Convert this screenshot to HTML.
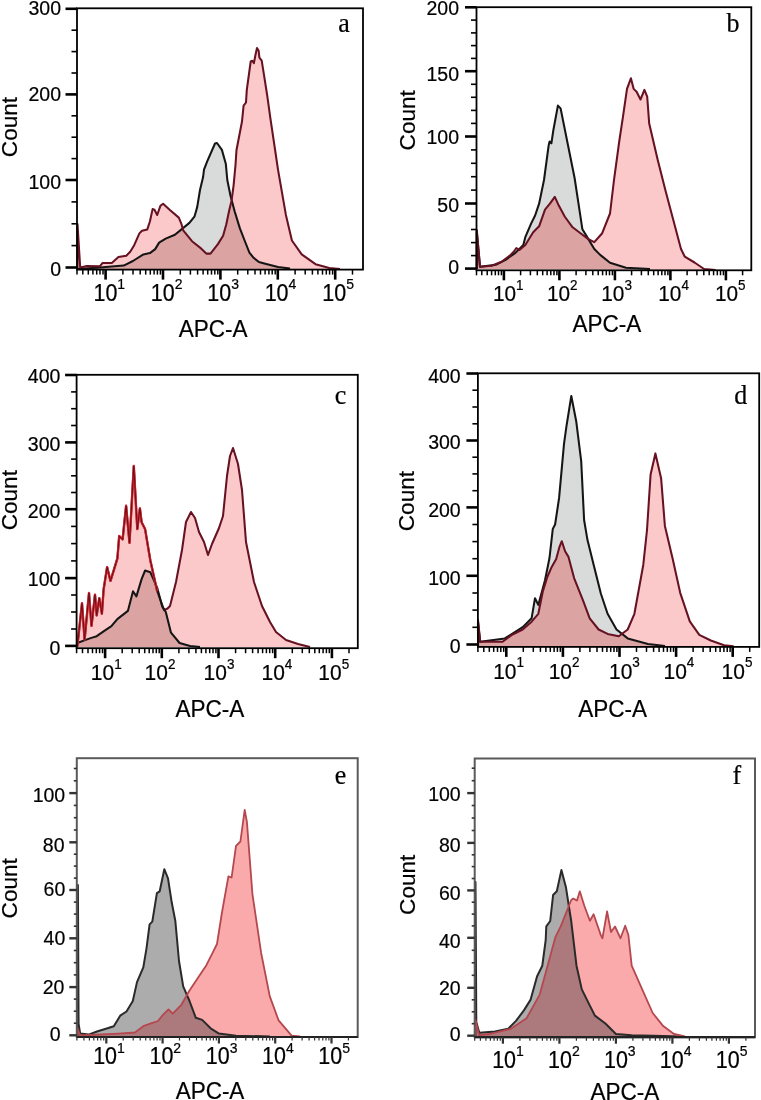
<!DOCTYPE html>
<html><head><meta charset="utf-8"><style>
html,body{margin:0;padding:0;background:#fff;width:761px;height:1100px;overflow:hidden}
svg{display:block}
text{fill:#000;stroke:#000;stroke-width:0.2px}
svg{will-change:transform}
</style></head><body>
<svg width="761" height="1100" viewBox="0 0 761 1100">
<rect width="761" height="1100" fill="#fff"/>
<clipPath id="clipg0"><path d="M77.5,269 L100,267.5 L123.7,265.6 L132.9,261 L143.4,254.4 L149.9,253.1 L155.2,249.1 L159.1,242.6 L165.7,238.6 L174.9,234.7 L181.5,229.4 L189.4,222.9 L194.6,216.3 L197.2,207.1 L200,190 L203.1,177 L204,169.6 L207.1,161.7 L215,143.5 L217,143 L221.9,149.9 L225.8,163.7 L227.3,180 L230.5,195.8 L234.7,211.5 L239.9,228.4 L245.2,242 L249.4,252.6 L253.6,257.8 L258.9,262 L264.3,263.5 L278,267.1 L290,268.5 Z"/></clipPath>
<path d="M77.5,269 L100,267.5 L123.7,265.6 L132.9,261 L143.4,254.4 L149.9,253.1 L155.2,249.1 L159.1,242.6 L165.7,238.6 L174.9,234.7 L181.5,229.4 L189.4,222.9 L194.6,216.3 L197.2,207.1 L200,190 L203.1,177 L204,169.6 L207.1,161.7 L215,143.5 L217,143 L221.9,149.9 L225.8,163.7 L227.3,180 L230.5,195.8 L234.7,211.5 L239.9,228.4 L245.2,242 L249.4,252.6 L253.6,257.8 L258.9,262 L264.3,263.5 L278,267.1 L290,268.5 Z" fill="#d9dbdb"/>
<path d="M77.5,269 L77.5,224 L80.2,267.5 L87,266 L100,266.2 L102.6,262.9 L111.8,262.9 L118.4,257 L126.3,255.7 L130.2,251.8 L134.2,245.2 L139.4,233.4 L142,230.7 L147.3,229.4 L149.9,221.5 L152.6,209.1 L154.5,209.7 L157.2,215 L160.4,205.8 L163.1,203.8 L169.6,209.7 L178.8,217.6 L181.5,224.2 L183.4,230.7 L192,241.2 L201,248.4 L206.3,253.6 L210.5,253.6 L217.9,244.1 L223.1,235.7 L226.3,224.2 L229.4,209.4 L231.5,201 L233.6,185.3 L235.5,165 L236.5,150 L242,121.5 L243.6,105.7 L246,102.5 L246.8,89.9 L250.7,61.5 L252.3,60.7 L253.9,63.1 L255.4,55.2 L257,48.1 L258.6,50.5 L259.4,57.6 L261.7,60.7 L264.1,75.7 L267.3,96.2 L270.4,118.3 L275.1,150 L278,169.6 L285.9,214.9 L291.9,240.5 L301.7,254.3 L315.5,264.2 L329.3,268.1 L340,269 Z" fill="#fcc9ca"/>
<path d="M77.5,269 L77.5,224 L80.2,267.5 L87,266 L100,266.2 L102.6,262.9 L111.8,262.9 L118.4,257 L126.3,255.7 L130.2,251.8 L134.2,245.2 L139.4,233.4 L142,230.7 L147.3,229.4 L149.9,221.5 L152.6,209.1 L154.5,209.7 L157.2,215 L160.4,205.8 L163.1,203.8 L169.6,209.7 L178.8,217.6 L181.5,224.2 L183.4,230.7 L192,241.2 L201,248.4 L206.3,253.6 L210.5,253.6 L217.9,244.1 L223.1,235.7 L226.3,224.2 L229.4,209.4 L231.5,201 L233.6,185.3 L235.5,165 L236.5,150 L242,121.5 L243.6,105.7 L246,102.5 L246.8,89.9 L250.7,61.5 L252.3,60.7 L253.9,63.1 L255.4,55.2 L257,48.1 L258.6,50.5 L259.4,57.6 L261.7,60.7 L264.1,75.7 L267.3,96.2 L270.4,118.3 L275.1,150 L278,169.6 L285.9,214.9 L291.9,240.5 L301.7,254.3 L315.5,264.2 L329.3,268.1 L340,269 Z" fill="#dca3a3" clip-path="url(#clipg0)"/>
<path d="M77.5,269 L100,267.5 L123.7,265.6 L132.9,261 L143.4,254.4 L149.9,253.1 L155.2,249.1 L159.1,242.6 L165.7,238.6 L174.9,234.7 L181.5,229.4 L189.4,222.9 L194.6,216.3 L197.2,207.1 L200,190 L203.1,177 L204,169.6 L207.1,161.7 L215,143.5 L217,143 L221.9,149.9 L225.8,163.7 L227.3,180 L230.5,195.8 L234.7,211.5 L239.9,228.4 L245.2,242 L249.4,252.6 L253.6,257.8 L258.9,262 L264.3,263.5 L278,267.1 L290,268.5" fill="none" stroke="#151515" stroke-width="2.05" stroke-linejoin="round"/>
<path d="M77.5,269 L77.5,224 L80.2,267.5 L87,266 L100,266.2 L102.6,262.9 L111.8,262.9 L118.4,257 L126.3,255.7 L130.2,251.8 L134.2,245.2 L139.4,233.4 L142,230.7 L147.3,229.4 L149.9,221.5 L152.6,209.1 L154.5,209.7 L157.2,215 L160.4,205.8 L163.1,203.8 L169.6,209.7 L178.8,217.6 L181.5,224.2 L183.4,230.7 L192,241.2 L201,248.4 L206.3,253.6 L210.5,253.6 L217.9,244.1 L223.1,235.7 L226.3,224.2 L229.4,209.4 L231.5,201 L233.6,185.3 L235.5,165 L236.5,150 L242,121.5 L243.6,105.7 L246,102.5 L246.8,89.9 L250.7,61.5 L252.3,60.7 L253.9,63.1 L255.4,55.2 L257,48.1 L258.6,50.5 L259.4,57.6 L261.7,60.7 L264.1,75.7 L267.3,96.2 L270.4,118.3 L275.1,150 L278,169.6 L285.9,214.9 L291.9,240.5 L301.7,254.3 L315.5,264.2 L329.3,268.1 L340,269" fill="none" stroke="#661222" stroke-width="2.05" stroke-linejoin="round"/>
<rect x="77" y="8.3" width="286" height="261.3" fill="none" stroke="#000" stroke-width="1.8"/>
<line x1="65.5" y1="267.5" x2="77" y2="267.5" stroke="#000" stroke-width="2.6"/>
<text x="61" y="276.2" font-size="19.5" text-anchor="end" font-family='"Liberation Sans", sans-serif'>0</text>
<line x1="71.5" y1="245.6" x2="77" y2="245.6" stroke="#000" stroke-width="1.6"/>
<line x1="71.5" y1="223.8" x2="77" y2="223.8" stroke="#000" stroke-width="1.6"/>
<line x1="71.5" y1="201.9" x2="77" y2="201.9" stroke="#000" stroke-width="1.6"/>
<line x1="65.5" y1="180" x2="77" y2="180" stroke="#000" stroke-width="2.6"/>
<text x="61" y="189" font-size="19.5" text-anchor="end" font-family='"Liberation Sans", sans-serif'>100</text>
<line x1="71.5" y1="158.6" x2="77" y2="158.6" stroke="#000" stroke-width="1.6"/>
<line x1="71.5" y1="137.2" x2="77" y2="137.2" stroke="#000" stroke-width="1.6"/>
<line x1="71.5" y1="115.8" x2="77" y2="115.8" stroke="#000" stroke-width="1.6"/>
<line x1="65.5" y1="94.4" x2="77" y2="94.4" stroke="#000" stroke-width="2.6"/>
<text x="61" y="101.1" font-size="19.5" text-anchor="end" font-family='"Liberation Sans", sans-serif'>200</text>
<line x1="71.5" y1="73" x2="77" y2="73" stroke="#000" stroke-width="1.6"/>
<line x1="71.5" y1="51.6" x2="77" y2="51.6" stroke="#000" stroke-width="1.6"/>
<line x1="71.5" y1="30.2" x2="77" y2="30.2" stroke="#000" stroke-width="1.6"/>
<line x1="65.5" y1="8.8" x2="77" y2="8.8" stroke="#000" stroke-width="2.6"/>
<text x="61" y="15.3" font-size="19.5" text-anchor="end" font-family='"Liberation Sans", sans-serif'>300</text>
<line x1="77" y1="269.6" x2="77" y2="274.6" stroke="#000" stroke-width="1.5"/>
<line x1="82.8" y1="269.6" x2="82.8" y2="274.6" stroke="#000" stroke-width="1.5"/>
<line x1="88.3" y1="269.6" x2="88.3" y2="274.6" stroke="#000" stroke-width="1.5"/>
<line x1="92.9" y1="269.6" x2="92.9" y2="274.6" stroke="#000" stroke-width="1.5"/>
<line x1="96.7" y1="269.6" x2="96.7" y2="274.6" stroke="#000" stroke-width="1.5"/>
<line x1="100" y1="269.6" x2="100" y2="274.6" stroke="#000" stroke-width="1.5"/>
<line x1="103" y1="269.6" x2="103" y2="274.6" stroke="#000" stroke-width="1.5"/>
<line x1="105.6" y1="269.6" x2="105.6" y2="279.6" stroke="#000" stroke-width="2.6"/>
<line x1="122.9" y1="269.6" x2="122.9" y2="274.6" stroke="#000" stroke-width="1.5"/>
<line x1="133" y1="269.6" x2="133" y2="274.6" stroke="#000" stroke-width="1.5"/>
<line x1="140.2" y1="269.6" x2="140.2" y2="274.6" stroke="#000" stroke-width="1.5"/>
<line x1="145.7" y1="269.6" x2="145.7" y2="274.6" stroke="#000" stroke-width="1.5"/>
<line x1="150.3" y1="269.6" x2="150.3" y2="274.6" stroke="#000" stroke-width="1.5"/>
<line x1="154.1" y1="269.6" x2="154.1" y2="274.6" stroke="#000" stroke-width="1.5"/>
<line x1="157.4" y1="269.6" x2="157.4" y2="274.6" stroke="#000" stroke-width="1.5"/>
<line x1="160.4" y1="269.6" x2="160.4" y2="274.6" stroke="#000" stroke-width="1.5"/>
<line x1="163" y1="269.6" x2="163" y2="279.6" stroke="#000" stroke-width="2.6"/>
<line x1="180.3" y1="269.6" x2="180.3" y2="274.6" stroke="#000" stroke-width="1.5"/>
<line x1="190.4" y1="269.6" x2="190.4" y2="274.6" stroke="#000" stroke-width="1.5"/>
<line x1="197.6" y1="269.6" x2="197.6" y2="274.6" stroke="#000" stroke-width="1.5"/>
<line x1="203.1" y1="269.6" x2="203.1" y2="274.6" stroke="#000" stroke-width="1.5"/>
<line x1="207.7" y1="269.6" x2="207.7" y2="274.6" stroke="#000" stroke-width="1.5"/>
<line x1="211.5" y1="269.6" x2="211.5" y2="274.6" stroke="#000" stroke-width="1.5"/>
<line x1="214.8" y1="269.6" x2="214.8" y2="274.6" stroke="#000" stroke-width="1.5"/>
<line x1="217.8" y1="269.6" x2="217.8" y2="274.6" stroke="#000" stroke-width="1.5"/>
<line x1="220.4" y1="269.6" x2="220.4" y2="279.6" stroke="#000" stroke-width="2.6"/>
<line x1="237.7" y1="269.6" x2="237.7" y2="274.6" stroke="#000" stroke-width="1.5"/>
<line x1="247.8" y1="269.6" x2="247.8" y2="274.6" stroke="#000" stroke-width="1.5"/>
<line x1="255" y1="269.6" x2="255" y2="274.6" stroke="#000" stroke-width="1.5"/>
<line x1="260.5" y1="269.6" x2="260.5" y2="274.6" stroke="#000" stroke-width="1.5"/>
<line x1="265.1" y1="269.6" x2="265.1" y2="274.6" stroke="#000" stroke-width="1.5"/>
<line x1="268.9" y1="269.6" x2="268.9" y2="274.6" stroke="#000" stroke-width="1.5"/>
<line x1="272.2" y1="269.6" x2="272.2" y2="274.6" stroke="#000" stroke-width="1.5"/>
<line x1="275.2" y1="269.6" x2="275.2" y2="274.6" stroke="#000" stroke-width="1.5"/>
<line x1="277.8" y1="269.6" x2="277.8" y2="279.6" stroke="#000" stroke-width="2.6"/>
<line x1="295.1" y1="269.6" x2="295.1" y2="274.6" stroke="#000" stroke-width="1.5"/>
<line x1="305.2" y1="269.6" x2="305.2" y2="274.6" stroke="#000" stroke-width="1.5"/>
<line x1="312.4" y1="269.6" x2="312.4" y2="274.6" stroke="#000" stroke-width="1.5"/>
<line x1="317.9" y1="269.6" x2="317.9" y2="274.6" stroke="#000" stroke-width="1.5"/>
<line x1="322.5" y1="269.6" x2="322.5" y2="274.6" stroke="#000" stroke-width="1.5"/>
<line x1="326.3" y1="269.6" x2="326.3" y2="274.6" stroke="#000" stroke-width="1.5"/>
<line x1="329.6" y1="269.6" x2="329.6" y2="274.6" stroke="#000" stroke-width="1.5"/>
<line x1="332.6" y1="269.6" x2="332.6" y2="274.6" stroke="#000" stroke-width="1.5"/>
<line x1="335.2" y1="269.6" x2="335.2" y2="279.6" stroke="#000" stroke-width="2.6"/>
<line x1="352.5" y1="269.6" x2="352.5" y2="274.6" stroke="#000" stroke-width="1.5"/>
<text transform="translate(109.3,300.9) scale(1,1.07)" x="0" y="0" font-size="21.5" text-anchor="middle" font-family='"Liberation Sans", sans-serif'>10<tspan dy="-11" font-size="14">1</tspan></text>
<text transform="translate(166.7,300.9) scale(1,1.07)" x="0" y="0" font-size="21.5" text-anchor="middle" font-family='"Liberation Sans", sans-serif'>10<tspan dy="-11" font-size="14">2</tspan></text>
<text transform="translate(223.1,300.9) scale(1,1.07)" x="0" y="0" font-size="21.5" text-anchor="middle" font-family='"Liberation Sans", sans-serif'>10<tspan dy="-11" font-size="14">3</tspan></text>
<text transform="translate(280.5,300.9) scale(1,1.07)" x="0" y="0" font-size="21.5" text-anchor="middle" font-family='"Liberation Sans", sans-serif'>10<tspan dy="-11" font-size="14">4</tspan></text>
<text transform="translate(338.1,300.9) scale(1,1.07)" x="0" y="0" font-size="21.5" text-anchor="middle" font-family='"Liberation Sans", sans-serif'>10<tspan dy="-11" font-size="14">5</tspan></text>
<text transform="translate(213.2,336.5) scale(1,1.04)" x="0" y="0" font-size="22.5" text-anchor="middle" font-family='"Liberation Sans", sans-serif'>APC-A</text>
<text x="0" y="0" transform="translate(16.9,127) rotate(-90)" font-size="22.6" text-anchor="middle" font-family='"Liberation Sans", sans-serif'>Count</text>
<text transform="translate(338.3,32.2) scale(1,1.08)" x="0" y="0" font-size="26" font-family='"Liberation Serif", serif'>a</text>
<clipPath id="clipg1"><path d="M476.8,269 L476.8,232 L480,266.7 L495.7,264.8 L505.6,259.8 L515.4,252.9 L523.3,245 L525.3,237.2 L531.2,223.4 L535.1,215.5 L539.1,203.7 L544,180 L548.7,145.2 L549.6,141.5 L551.4,143.3 L553.3,130.5 L557.9,105.6 L560.6,108.4 L568,145.2 L574.6,178 L578.5,203.7 L582.4,229.3 L588.4,239.1 L594.3,249 L600.2,254.9 L610,262.8 L626,267.7 L650,269 Z"/></clipPath>
<path d="M476.8,269 L476.8,232 L480,266.7 L495.7,264.8 L505.6,259.8 L515.4,252.9 L523.3,245 L525.3,237.2 L531.2,223.4 L535.1,215.5 L539.1,203.7 L544,180 L548.7,145.2 L549.6,141.5 L551.4,143.3 L553.3,130.5 L557.9,105.6 L560.6,108.4 L568,145.2 L574.6,178 L578.5,203.7 L582.4,229.3 L588.4,239.1 L594.3,249 L600.2,254.9 L610,262.8 L626,267.7 L650,269 Z" fill="#d9dbdb"/>
<path d="M476.8,269 L476.8,230 L480,266.7 L491.8,265.7 L501.6,261.8 L509.5,255.9 L513.5,252 L516.4,248 L519.4,250 L525.3,245 L533.2,232.2 L539.1,226.3 L545,209.6 L549.9,203.7 L554.8,196.8 L558.8,205.6 L564.7,216.5 L572.6,227.3 L580.5,233.2 L588.4,239.1 L594.3,242.1 L602.2,233.2 L610,213.5 L614,180 L619.3,141 L623.1,115.9 L627,88.9 L630.9,78.3 L633.7,88.9 L636.6,91.8 L640.5,99.5 L644.4,89.9 L647.2,96.6 L649.2,123.6 L657.8,160.3 L665.6,191.1 L673.3,220 L681,249 L684.8,256.7 L694.5,262.5 L704.1,269 L715.7,270 Z" fill="#fcc9ca"/>
<path d="M476.8,269 L476.8,230 L480,266.7 L491.8,265.7 L501.6,261.8 L509.5,255.9 L513.5,252 L516.4,248 L519.4,250 L525.3,245 L533.2,232.2 L539.1,226.3 L545,209.6 L549.9,203.7 L554.8,196.8 L558.8,205.6 L564.7,216.5 L572.6,227.3 L580.5,233.2 L588.4,239.1 L594.3,242.1 L602.2,233.2 L610,213.5 L614,180 L619.3,141 L623.1,115.9 L627,88.9 L630.9,78.3 L633.7,88.9 L636.6,91.8 L640.5,99.5 L644.4,89.9 L647.2,96.6 L649.2,123.6 L657.8,160.3 L665.6,191.1 L673.3,220 L681,249 L684.8,256.7 L694.5,262.5 L704.1,269 L715.7,270 Z" fill="#dca3a3" clip-path="url(#clipg1)"/>
<path d="M476.8,269 L476.8,232 L480,266.7 L495.7,264.8 L505.6,259.8 L515.4,252.9 L523.3,245 L525.3,237.2 L531.2,223.4 L535.1,215.5 L539.1,203.7 L544,180 L548.7,145.2 L549.6,141.5 L551.4,143.3 L553.3,130.5 L557.9,105.6 L560.6,108.4 L568,145.2 L574.6,178 L578.5,203.7 L582.4,229.3 L588.4,239.1 L594.3,249 L600.2,254.9 L610,262.8 L626,267.7 L650,269" fill="none" stroke="#151515" stroke-width="2.05" stroke-linejoin="round"/>
<path d="M476.8,269 L476.8,230 L480,266.7 L491.8,265.7 L501.6,261.8 L509.5,255.9 L513.5,252 L516.4,248 L519.4,250 L525.3,245 L533.2,232.2 L539.1,226.3 L545,209.6 L549.9,203.7 L554.8,196.8 L558.8,205.6 L564.7,216.5 L572.6,227.3 L580.5,233.2 L588.4,239.1 L594.3,242.1 L602.2,233.2 L610,213.5 L614,180 L619.3,141 L623.1,115.9 L627,88.9 L630.9,78.3 L633.7,88.9 L636.6,91.8 L640.5,99.5 L644.4,89.9 L647.2,96.6 L649.2,123.6 L657.8,160.3 L665.6,191.1 L673.3,220 L681,249 L684.8,256.7 L694.5,262.5 L704.1,269 L715.7,270" fill="none" stroke="#661222" stroke-width="2.05" stroke-linejoin="round"/>
<rect x="476.5" y="7.2" width="274.8" height="263.1" fill="none" stroke="#000" stroke-width="1.8"/>
<line x1="465" y1="268.6" x2="476.5" y2="268.6" stroke="#000" stroke-width="2.6"/>
<text x="459" y="274.1" font-size="19.5" text-anchor="end" font-family='"Liberation Sans", sans-serif'>0</text>
<line x1="471" y1="255.6" x2="476.5" y2="255.6" stroke="#000" stroke-width="1.6"/>
<line x1="471" y1="242.6" x2="476.5" y2="242.6" stroke="#000" stroke-width="1.6"/>
<line x1="471" y1="229.5" x2="476.5" y2="229.5" stroke="#000" stroke-width="1.6"/>
<line x1="471" y1="216.5" x2="476.5" y2="216.5" stroke="#000" stroke-width="1.6"/>
<line x1="465" y1="203.5" x2="476.5" y2="203.5" stroke="#000" stroke-width="2.6"/>
<text x="459" y="211.7" font-size="19.5" text-anchor="end" font-family='"Liberation Sans", sans-serif'>50</text>
<line x1="471" y1="190.1" x2="476.5" y2="190.1" stroke="#000" stroke-width="1.6"/>
<line x1="471" y1="176.7" x2="476.5" y2="176.7" stroke="#000" stroke-width="1.6"/>
<line x1="471" y1="163.3" x2="476.5" y2="163.3" stroke="#000" stroke-width="1.6"/>
<line x1="471" y1="149.9" x2="476.5" y2="149.9" stroke="#000" stroke-width="1.6"/>
<line x1="465" y1="136.5" x2="476.5" y2="136.5" stroke="#000" stroke-width="2.6"/>
<text x="459" y="144" font-size="19.5" text-anchor="end" font-family='"Liberation Sans", sans-serif'>100</text>
<line x1="471" y1="123.4" x2="476.5" y2="123.4" stroke="#000" stroke-width="1.6"/>
<line x1="471" y1="110.4" x2="476.5" y2="110.4" stroke="#000" stroke-width="1.6"/>
<line x1="471" y1="97.3" x2="476.5" y2="97.3" stroke="#000" stroke-width="1.6"/>
<line x1="471" y1="84.3" x2="476.5" y2="84.3" stroke="#000" stroke-width="1.6"/>
<line x1="465" y1="71.2" x2="476.5" y2="71.2" stroke="#000" stroke-width="2.6"/>
<text x="459" y="80.9" font-size="19.5" text-anchor="end" font-family='"Liberation Sans", sans-serif'>150</text>
<line x1="471" y1="58.4" x2="476.5" y2="58.4" stroke="#000" stroke-width="1.6"/>
<line x1="471" y1="45.6" x2="476.5" y2="45.6" stroke="#000" stroke-width="1.6"/>
<line x1="471" y1="32.9" x2="476.5" y2="32.9" stroke="#000" stroke-width="1.6"/>
<line x1="471" y1="20.1" x2="476.5" y2="20.1" stroke="#000" stroke-width="1.6"/>
<line x1="465" y1="7.3" x2="476.5" y2="7.3" stroke="#000" stroke-width="2.6"/>
<text x="459" y="14.9" font-size="19.5" text-anchor="end" font-family='"Liberation Sans", sans-serif'>200</text>
<line x1="476.5" y1="270.3" x2="476.5" y2="275.3" stroke="#000" stroke-width="1.5"/>
<line x1="481.8" y1="270.3" x2="481.8" y2="275.3" stroke="#000" stroke-width="1.5"/>
<line x1="487.2" y1="270.3" x2="487.2" y2="275.3" stroke="#000" stroke-width="1.5"/>
<line x1="491.6" y1="270.3" x2="491.6" y2="275.3" stroke="#000" stroke-width="1.5"/>
<line x1="495.3" y1="270.3" x2="495.3" y2="275.3" stroke="#000" stroke-width="1.5"/>
<line x1="498.5" y1="270.3" x2="498.5" y2="275.3" stroke="#000" stroke-width="1.5"/>
<line x1="501.4" y1="270.3" x2="501.4" y2="275.3" stroke="#000" stroke-width="1.5"/>
<line x1="503.9" y1="270.3" x2="503.9" y2="280.3" stroke="#000" stroke-width="2.6"/>
<line x1="520.6" y1="270.3" x2="520.6" y2="275.3" stroke="#000" stroke-width="1.5"/>
<line x1="530.4" y1="270.3" x2="530.4" y2="275.3" stroke="#000" stroke-width="1.5"/>
<line x1="537.3" y1="270.3" x2="537.3" y2="275.3" stroke="#000" stroke-width="1.5"/>
<line x1="542.7" y1="270.3" x2="542.7" y2="275.3" stroke="#000" stroke-width="1.5"/>
<line x1="547.1" y1="270.3" x2="547.1" y2="275.3" stroke="#000" stroke-width="1.5"/>
<line x1="550.8" y1="270.3" x2="550.8" y2="275.3" stroke="#000" stroke-width="1.5"/>
<line x1="554" y1="270.3" x2="554" y2="275.3" stroke="#000" stroke-width="1.5"/>
<line x1="556.9" y1="270.3" x2="556.9" y2="275.3" stroke="#000" stroke-width="1.5"/>
<line x1="559.4" y1="270.3" x2="559.4" y2="280.3" stroke="#000" stroke-width="2.6"/>
<line x1="576.1" y1="270.3" x2="576.1" y2="275.3" stroke="#000" stroke-width="1.5"/>
<line x1="585.9" y1="270.3" x2="585.9" y2="275.3" stroke="#000" stroke-width="1.5"/>
<line x1="592.8" y1="270.3" x2="592.8" y2="275.3" stroke="#000" stroke-width="1.5"/>
<line x1="598.2" y1="270.3" x2="598.2" y2="275.3" stroke="#000" stroke-width="1.5"/>
<line x1="602.6" y1="270.3" x2="602.6" y2="275.3" stroke="#000" stroke-width="1.5"/>
<line x1="606.3" y1="270.3" x2="606.3" y2="275.3" stroke="#000" stroke-width="1.5"/>
<line x1="609.5" y1="270.3" x2="609.5" y2="275.3" stroke="#000" stroke-width="1.5"/>
<line x1="612.4" y1="270.3" x2="612.4" y2="275.3" stroke="#000" stroke-width="1.5"/>
<line x1="614.9" y1="270.3" x2="614.9" y2="280.3" stroke="#000" stroke-width="2.6"/>
<line x1="631.6" y1="270.3" x2="631.6" y2="275.3" stroke="#000" stroke-width="1.5"/>
<line x1="641.4" y1="270.3" x2="641.4" y2="275.3" stroke="#000" stroke-width="1.5"/>
<line x1="648.3" y1="270.3" x2="648.3" y2="275.3" stroke="#000" stroke-width="1.5"/>
<line x1="653.7" y1="270.3" x2="653.7" y2="275.3" stroke="#000" stroke-width="1.5"/>
<line x1="658.1" y1="270.3" x2="658.1" y2="275.3" stroke="#000" stroke-width="1.5"/>
<line x1="661.8" y1="270.3" x2="661.8" y2="275.3" stroke="#000" stroke-width="1.5"/>
<line x1="665" y1="270.3" x2="665" y2="275.3" stroke="#000" stroke-width="1.5"/>
<line x1="667.9" y1="270.3" x2="667.9" y2="275.3" stroke="#000" stroke-width="1.5"/>
<line x1="670.4" y1="270.3" x2="670.4" y2="280.3" stroke="#000" stroke-width="2.6"/>
<line x1="687.1" y1="270.3" x2="687.1" y2="275.3" stroke="#000" stroke-width="1.5"/>
<line x1="696.9" y1="270.3" x2="696.9" y2="275.3" stroke="#000" stroke-width="1.5"/>
<line x1="703.8" y1="270.3" x2="703.8" y2="275.3" stroke="#000" stroke-width="1.5"/>
<line x1="709.2" y1="270.3" x2="709.2" y2="275.3" stroke="#000" stroke-width="1.5"/>
<line x1="713.6" y1="270.3" x2="713.6" y2="275.3" stroke="#000" stroke-width="1.5"/>
<line x1="717.3" y1="270.3" x2="717.3" y2="275.3" stroke="#000" stroke-width="1.5"/>
<line x1="720.5" y1="270.3" x2="720.5" y2="275.3" stroke="#000" stroke-width="1.5"/>
<line x1="723.4" y1="270.3" x2="723.4" y2="275.3" stroke="#000" stroke-width="1.5"/>
<line x1="725.9" y1="270.3" x2="725.9" y2="280.3" stroke="#000" stroke-width="2.6"/>
<line x1="742.6" y1="270.3" x2="742.6" y2="275.3" stroke="#000" stroke-width="1.5"/>
<text transform="translate(508.2,300.9) scale(1,1.07)" x="0" y="0" font-size="20.8" text-anchor="middle" font-family='"Liberation Sans", sans-serif'>10<tspan dy="-10.6" font-size="13.5">1</tspan></text>
<text transform="translate(562.2,300.9) scale(1,1.07)" x="0" y="0" font-size="20.8" text-anchor="middle" font-family='"Liberation Sans", sans-serif'>10<tspan dy="-10.6" font-size="13.5">2</tspan></text>
<text transform="translate(616.6,300.9) scale(1,1.07)" x="0" y="0" font-size="20.8" text-anchor="middle" font-family='"Liberation Sans", sans-serif'>10<tspan dy="-10.6" font-size="13.5">3</tspan></text>
<text transform="translate(673.6,300.9) scale(1,1.07)" x="0" y="0" font-size="20.8" text-anchor="middle" font-family='"Liberation Sans", sans-serif'>10<tspan dy="-10.6" font-size="13.5">4</tspan></text>
<text transform="translate(730.2,300.9) scale(1,1.07)" x="0" y="0" font-size="20.8" text-anchor="middle" font-family='"Liberation Sans", sans-serif'>10<tspan dy="-10.6" font-size="13.5">5</tspan></text>
<text transform="translate(606.8,332.2) scale(1,1.04)" x="0" y="0" font-size="22.5" text-anchor="middle" font-family='"Liberation Sans", sans-serif'>APC-A</text>
<text x="0" y="0" transform="translate(415.2,120.3) rotate(-90)" font-size="22.6" text-anchor="middle" font-family='"Liberation Sans", sans-serif'>Count</text>
<text transform="translate(726.5,32.2) scale(1,1.08)" x="0" y="0" font-size="26" font-family='"Liberation Serif", serif'>b</text>
<clipPath id="clipg2"><path d="M77,647 L77.2,643 L87.8,639.1 L91.4,637.9 L96.7,636.2 L104.3,630.9 L111.4,626.2 L117.3,619.1 L127.9,610.9 L133,591.2 L136.4,596.4 L141.6,579.1 L145.1,570.5 L150.3,572.2 L157.2,587.8 L162.3,606.8 L165.8,612 L171,632.7 L179.6,643 L190,646 L200,647 Z"/></clipPath>
<path d="M77,647 L77.2,643 L87.8,639.1 L91.4,637.9 L96.7,636.2 L104.3,630.9 L111.4,626.2 L117.3,619.1 L127.9,610.9 L133,591.2 L136.4,596.4 L141.6,579.1 L145.1,570.5 L150.3,572.2 L157.2,587.8 L162.3,606.8 L165.8,612 L171,632.7 L179.6,643 L190,646 L200,647 Z" fill="#d9dbdb"/>
<path d="M77,647 L77.7,643 L82,603.3 L84.6,639.6 L89,593 L91.5,625.8 L95,594.7 L96.7,615.4 L99.3,598.1 L101.9,613.7 L103.6,589.5 L107.1,567.1 L110.5,580.9 L117.4,558.4 L119.2,536 L122.6,539.4 L126.1,505.8 L129.5,542.9 L133.8,466 L137.3,529.1 L139.9,508.4 L141.6,522.2 L145.1,529.1 L150.3,560.2 L157.2,591.2 L164.1,610.2 L167.5,608.5 L170,606 L176,582 L182,550 L186,522 L191,512 L195,518 L199,532 L204,542 L208,555 L212,544 L219,528 L223,516 L227,476 L230,456 L233,448 L238,464 L242,490 L246,542 L254,582 L262,606 L270,622 L276,632 L286,640 L298,644 L310,647 Z" fill="#fcc9ca"/>
<path d="M77,647 L77.7,643 L82,603.3 L84.6,639.6 L89,593 L91.5,625.8 L95,594.7 L96.7,615.4 L99.3,598.1 L101.9,613.7 L103.6,589.5 L107.1,567.1 L110.5,580.9 L117.4,558.4 L119.2,536 L122.6,539.4 L126.1,505.8 L129.5,542.9 L133.8,466 L137.3,529.1 L139.9,508.4 L141.6,522.2 L145.1,529.1 L150.3,560.2 L157.2,591.2 L164.1,610.2 L167.5,608.5 L170,606 L176,582 L182,550 L186,522 L191,512 L195,518 L199,532 L204,542 L208,555 L212,544 L219,528 L223,516 L227,476 L230,456 L233,448 L238,464 L242,490 L246,542 L254,582 L262,606 L270,622 L276,632 L286,640 L298,644 L310,647 Z" fill="#dca3a3" clip-path="url(#clipg2)"/>
<path d="M77,647 L77.7,643 L82,603.3 L84.6,639.6 L89,593 L91.5,625.8 L95,594.7 L96.7,615.4 L99.3,598.1 L101.9,613.7 L103.6,589.5 L107.1,567.1 L110.5,580.9 L117.4,558.4 L119.2,536 L122.6,539.4 L126.1,505.8 L129.5,542.9 L133.8,466 L137.3,529.1 L139.9,508.4 L141.6,522.2 L145.1,529.1 L150.3,560.2 L157.2,591.2 L164.1,610.2 L167.5,608.5 L170,606 L176,582 L182,550 L186,522 L191,512 L195,518 L199,532 L204,542 L208,555 L212,544 L219,528 L223,516 L227,476 L230,456 L233,448 L238,464 L242,490 L246,542 L254,582 L262,606 L270,622 L276,632 L286,640 L298,644 L310,647" fill="none" stroke="#661222" stroke-width="2.05" stroke-linejoin="round"/>
<path d="M77,647 L77.2,643 L87.8,639.1 L91.4,637.9 L96.7,636.2 L104.3,630.9 L111.4,626.2 L117.3,619.1 L127.9,610.9 L133,591.2 L136.4,596.4 L141.6,579.1 L145.1,570.5 L150.3,572.2 L157.2,587.8 L162.3,606.8 L165.8,612 L171,632.7 L179.6,643 L190,646 L200,647" fill="none" stroke="#151515" stroke-width="2.05" stroke-linejoin="round"/>
<path d="M77,647 L77.7,643 L82,603.3 L84.6,639.6 L89,593 L91.5,625.8 L95,594.7 L96.7,615.4 L99.3,598.1 L101.9,613.7 L103.6,589.5 L107.1,567.1 L110.5,580.9 L117.4,558.4 L119.2,536 L122.6,539.4 L126.1,505.8 L129.5,542.9 L133.8,466 L137.3,529.1 L139.9,508.4 L141.6,522.2 L145.1,529.1 L150.3,560.2 L157.2,591.2" fill="none" stroke="#dd2a30" stroke-width="2.4" stroke-linejoin="round"/>
<path d="M77,647 L77.7,643 L82,603.3 L84.6,639.6 L89,593 L91.5,625.8 L95,594.7 L96.7,615.4 L99.3,598.1 L101.9,613.7 L103.6,589.5 L107.1,567.1 L110.5,580.9 L117.4,558.4 L119.2,536 L122.6,539.4 L126.1,505.8 L129.5,542.9 L133.8,466 L137.3,529.1 L139.9,508.4 L141.6,522.2 L145.1,529.1 L150.3,560.2 L157.2,591.2" fill="none" stroke="#5a0c18" stroke-width="0.9" stroke-linejoin="round"/>
<rect x="76.6" y="374.8" width="281.2" height="273.4" fill="none" stroke="#000" stroke-width="1.8"/>
<line x1="65.1" y1="645.9" x2="76.6" y2="645.9" stroke="#000" stroke-width="2.6"/>
<text x="60.4" y="654.9" font-size="19.5" text-anchor="end" font-family='"Liberation Sans", sans-serif'>0</text>
<line x1="71.1" y1="629" x2="76.6" y2="629" stroke="#000" stroke-width="1.6"/>
<line x1="71.1" y1="612" x2="76.6" y2="612" stroke="#000" stroke-width="1.6"/>
<line x1="71.1" y1="595" x2="76.6" y2="595" stroke="#000" stroke-width="1.6"/>
<line x1="65.1" y1="578.1" x2="76.6" y2="578.1" stroke="#000" stroke-width="2.6"/>
<text x="60.4" y="586.2" font-size="19.5" text-anchor="end" font-family='"Liberation Sans", sans-serif'>100</text>
<line x1="71.1" y1="560.9" x2="76.6" y2="560.9" stroke="#000" stroke-width="1.6"/>
<line x1="71.1" y1="543.6" x2="76.6" y2="543.6" stroke="#000" stroke-width="1.6"/>
<line x1="71.1" y1="526.4" x2="76.6" y2="526.4" stroke="#000" stroke-width="1.6"/>
<line x1="65.1" y1="509.2" x2="76.6" y2="509.2" stroke="#000" stroke-width="2.6"/>
<text x="60.4" y="517.7" font-size="19.5" text-anchor="end" font-family='"Liberation Sans", sans-serif'>200</text>
<line x1="71.1" y1="492.5" x2="76.6" y2="492.5" stroke="#000" stroke-width="1.6"/>
<line x1="71.1" y1="475.8" x2="76.6" y2="475.8" stroke="#000" stroke-width="1.6"/>
<line x1="71.1" y1="459.1" x2="76.6" y2="459.1" stroke="#000" stroke-width="1.6"/>
<line x1="65.1" y1="442.4" x2="76.6" y2="442.4" stroke="#000" stroke-width="2.6"/>
<text x="60.4" y="450.8" font-size="19.5" text-anchor="end" font-family='"Liberation Sans", sans-serif'>300</text>
<line x1="71.1" y1="425.5" x2="76.6" y2="425.5" stroke="#000" stroke-width="1.6"/>
<line x1="71.1" y1="408.7" x2="76.6" y2="408.7" stroke="#000" stroke-width="1.6"/>
<line x1="71.1" y1="391.9" x2="76.6" y2="391.9" stroke="#000" stroke-width="1.6"/>
<line x1="65.1" y1="375" x2="76.6" y2="375" stroke="#000" stroke-width="2.6"/>
<text x="60.4" y="382.6" font-size="19.5" text-anchor="end" font-family='"Liberation Sans", sans-serif'>400</text>
<line x1="76.6" y1="648.2" x2="76.6" y2="653.2" stroke="#000" stroke-width="1.5"/>
<line x1="82.5" y1="648.2" x2="82.5" y2="653.2" stroke="#000" stroke-width="1.5"/>
<line x1="88" y1="648.2" x2="88" y2="653.2" stroke="#000" stroke-width="1.5"/>
<line x1="92.5" y1="648.2" x2="92.5" y2="653.2" stroke="#000" stroke-width="1.5"/>
<line x1="96.3" y1="648.2" x2="96.3" y2="653.2" stroke="#000" stroke-width="1.5"/>
<line x1="99.6" y1="648.2" x2="99.6" y2="653.2" stroke="#000" stroke-width="1.5"/>
<line x1="102.5" y1="648.2" x2="102.5" y2="653.2" stroke="#000" stroke-width="1.5"/>
<line x1="105.1" y1="648.2" x2="105.1" y2="658.2" stroke="#000" stroke-width="2.6"/>
<line x1="122.2" y1="648.2" x2="122.2" y2="653.2" stroke="#000" stroke-width="1.5"/>
<line x1="132.2" y1="648.2" x2="132.2" y2="653.2" stroke="#000" stroke-width="1.5"/>
<line x1="139.2" y1="648.2" x2="139.2" y2="653.2" stroke="#000" stroke-width="1.5"/>
<line x1="144.7" y1="648.2" x2="144.7" y2="653.2" stroke="#000" stroke-width="1.5"/>
<line x1="149.2" y1="648.2" x2="149.2" y2="653.2" stroke="#000" stroke-width="1.5"/>
<line x1="153" y1="648.2" x2="153" y2="653.2" stroke="#000" stroke-width="1.5"/>
<line x1="156.3" y1="648.2" x2="156.3" y2="653.2" stroke="#000" stroke-width="1.5"/>
<line x1="159.2" y1="648.2" x2="159.2" y2="653.2" stroke="#000" stroke-width="1.5"/>
<line x1="161.8" y1="648.2" x2="161.8" y2="658.2" stroke="#000" stroke-width="2.6"/>
<line x1="178.9" y1="648.2" x2="178.9" y2="653.2" stroke="#000" stroke-width="1.5"/>
<line x1="188.9" y1="648.2" x2="188.9" y2="653.2" stroke="#000" stroke-width="1.5"/>
<line x1="195.9" y1="648.2" x2="195.9" y2="653.2" stroke="#000" stroke-width="1.5"/>
<line x1="201.4" y1="648.2" x2="201.4" y2="653.2" stroke="#000" stroke-width="1.5"/>
<line x1="205.9" y1="648.2" x2="205.9" y2="653.2" stroke="#000" stroke-width="1.5"/>
<line x1="209.7" y1="648.2" x2="209.7" y2="653.2" stroke="#000" stroke-width="1.5"/>
<line x1="213" y1="648.2" x2="213" y2="653.2" stroke="#000" stroke-width="1.5"/>
<line x1="215.9" y1="648.2" x2="215.9" y2="653.2" stroke="#000" stroke-width="1.5"/>
<line x1="218.5" y1="648.2" x2="218.5" y2="658.2" stroke="#000" stroke-width="2.6"/>
<line x1="235.6" y1="648.2" x2="235.6" y2="653.2" stroke="#000" stroke-width="1.5"/>
<line x1="245.6" y1="648.2" x2="245.6" y2="653.2" stroke="#000" stroke-width="1.5"/>
<line x1="252.6" y1="648.2" x2="252.6" y2="653.2" stroke="#000" stroke-width="1.5"/>
<line x1="258.1" y1="648.2" x2="258.1" y2="653.2" stroke="#000" stroke-width="1.5"/>
<line x1="262.6" y1="648.2" x2="262.6" y2="653.2" stroke="#000" stroke-width="1.5"/>
<line x1="266.4" y1="648.2" x2="266.4" y2="653.2" stroke="#000" stroke-width="1.5"/>
<line x1="269.7" y1="648.2" x2="269.7" y2="653.2" stroke="#000" stroke-width="1.5"/>
<line x1="272.6" y1="648.2" x2="272.6" y2="653.2" stroke="#000" stroke-width="1.5"/>
<line x1="275.2" y1="648.2" x2="275.2" y2="658.2" stroke="#000" stroke-width="2.6"/>
<line x1="292.3" y1="648.2" x2="292.3" y2="653.2" stroke="#000" stroke-width="1.5"/>
<line x1="302.3" y1="648.2" x2="302.3" y2="653.2" stroke="#000" stroke-width="1.5"/>
<line x1="309.3" y1="648.2" x2="309.3" y2="653.2" stroke="#000" stroke-width="1.5"/>
<line x1="314.8" y1="648.2" x2="314.8" y2="653.2" stroke="#000" stroke-width="1.5"/>
<line x1="319.3" y1="648.2" x2="319.3" y2="653.2" stroke="#000" stroke-width="1.5"/>
<line x1="323.1" y1="648.2" x2="323.1" y2="653.2" stroke="#000" stroke-width="1.5"/>
<line x1="326.4" y1="648.2" x2="326.4" y2="653.2" stroke="#000" stroke-width="1.5"/>
<line x1="329.3" y1="648.2" x2="329.3" y2="653.2" stroke="#000" stroke-width="1.5"/>
<line x1="331.9" y1="648.2" x2="331.9" y2="658.2" stroke="#000" stroke-width="2.6"/>
<line x1="349" y1="648.2" x2="349" y2="653.2" stroke="#000" stroke-width="1.5"/>
<text transform="translate(106.3,680.4) scale(1,1.07)" x="0" y="0" font-size="21" text-anchor="middle" font-family='"Liberation Sans", sans-serif'>10<tspan dy="-11" font-size="13.5">1</tspan></text>
<text transform="translate(160,680.4) scale(1,1.07)" x="0" y="0" font-size="21" text-anchor="middle" font-family='"Liberation Sans", sans-serif'>10<tspan dy="-11" font-size="13.5">2</tspan></text>
<text transform="translate(219,680.4) scale(1,1.07)" x="0" y="0" font-size="21" text-anchor="middle" font-family='"Liberation Sans", sans-serif'>10<tspan dy="-11" font-size="13.5">3</tspan></text>
<text transform="translate(276.9,680.4) scale(1,1.07)" x="0" y="0" font-size="21" text-anchor="middle" font-family='"Liberation Sans", sans-serif'>10<tspan dy="-11" font-size="13.5">4</tspan></text>
<text transform="translate(333.8,680.4) scale(1,1.07)" x="0" y="0" font-size="21" text-anchor="middle" font-family='"Liberation Sans", sans-serif'>10<tspan dy="-11" font-size="13.5">5</tspan></text>
<text transform="translate(209.8,716.9) scale(1,1.04)" x="0" y="0" font-size="22.5" text-anchor="middle" font-family='"Liberation Sans", sans-serif'>APC-A</text>
<text x="0" y="0" transform="translate(17.1,500.2) rotate(-90)" font-size="22.6" text-anchor="middle" font-family='"Liberation Sans", sans-serif'>Count</text>
<text transform="translate(334.8,404) scale(1,1.08)" x="0" y="0" font-size="26" font-family='"Liberation Serif", serif'>c</text>
<clipPath id="clipg3"><path d="M478,646 L478,622 L480.2,641.8 L504.8,638.4 L522.7,627.2 L531.6,618.3 L535,598.2 L538.3,604.9 L545,580.3 L549.5,558 L552.8,528.9 L555.1,524.5 L559.1,497.9 L564,443.9 L566.4,426.7 L571.3,396 L576.3,421.8 L581.2,461.1 L584.1,520 L587.5,540.1 L594.2,566.9 L600.9,593.7 L607.6,613.8 L616.5,629.5 L627.7,638.4 L648,644 L665,646 Z"/></clipPath>
<path d="M478,646 L478,622 L480.2,641.8 L504.8,638.4 L522.7,627.2 L531.6,618.3 L535,598.2 L538.3,604.9 L545,580.3 L549.5,558 L552.8,528.9 L555.1,524.5 L559.1,497.9 L564,443.9 L566.4,426.7 L571.3,396 L576.3,421.8 L581.2,461.1 L584.1,520 L587.5,540.1 L594.2,566.9 L600.9,593.7 L607.6,613.8 L616.5,629.5 L627.7,638.4 L648,644 L665,646 Z" fill="#d9dbdb"/>
<path d="M478,646 L478,620 L480.2,641.8 L502.6,641.8 L511.5,635.1 L522.7,629.5 L531.6,621.7 L538.3,613.8 L542.8,591.5 L547.3,577 L551.7,566.9 L556.2,559.1 L559.5,546.8 L561.8,541.2 L565.1,551.3 L568.5,556.9 L574.1,578.1 L583,600.4 L589.7,618.3 L598.6,629.5 L607.6,633.9 L618.8,636.2 L627.7,629.5 L634.4,613.8 L643.3,564.7 L647,530 L650.6,474.4 L655.4,453.4 L661.1,478.2 L664.9,525.9 L672.6,558.4 L680.2,592.8 L689.8,621.4 L699.3,634.8 L710.8,640.5 L724.1,645.3 L733.7,646.3 Z" fill="#fcc9ca"/>
<path d="M478,646 L478,620 L480.2,641.8 L502.6,641.8 L511.5,635.1 L522.7,629.5 L531.6,621.7 L538.3,613.8 L542.8,591.5 L547.3,577 L551.7,566.9 L556.2,559.1 L559.5,546.8 L561.8,541.2 L565.1,551.3 L568.5,556.9 L574.1,578.1 L583,600.4 L589.7,618.3 L598.6,629.5 L607.6,633.9 L618.8,636.2 L627.7,629.5 L634.4,613.8 L643.3,564.7 L647,530 L650.6,474.4 L655.4,453.4 L661.1,478.2 L664.9,525.9 L672.6,558.4 L680.2,592.8 L689.8,621.4 L699.3,634.8 L710.8,640.5 L724.1,645.3 L733.7,646.3 Z" fill="#dca3a3" clip-path="url(#clipg3)"/>
<path d="M478,646 L478,622 L480.2,641.8 L504.8,638.4 L522.7,627.2 L531.6,618.3 L535,598.2 L538.3,604.9 L545,580.3 L549.5,558 L552.8,528.9 L555.1,524.5 L559.1,497.9 L564,443.9 L566.4,426.7 L571.3,396 L576.3,421.8 L581.2,461.1 L584.1,520 L587.5,540.1 L594.2,566.9 L600.9,593.7 L607.6,613.8 L616.5,629.5 L627.7,638.4 L648,644 L665,646" fill="none" stroke="#151515" stroke-width="2.05" stroke-linejoin="round"/>
<path d="M478,646 L478,620 L480.2,641.8 L502.6,641.8 L511.5,635.1 L522.7,629.5 L531.6,621.7 L538.3,613.8 L542.8,591.5 L547.3,577 L551.7,566.9 L556.2,559.1 L559.5,546.8 L561.8,541.2 L565.1,551.3 L568.5,556.9 L574.1,578.1 L583,600.4 L589.7,618.3 L598.6,629.5 L607.6,633.9 L618.8,636.2 L627.7,629.5 L634.4,613.8 L643.3,564.7 L647,530 L650.6,474.4 L655.4,453.4 L661.1,478.2 L664.9,525.9 L672.6,558.4 L680.2,592.8 L689.8,621.4 L699.3,634.8 L710.8,640.5 L724.1,645.3 L733.7,646.3" fill="none" stroke="#661222" stroke-width="2.05" stroke-linejoin="round"/>
<rect x="477.9" y="373.3" width="281.3" height="273.6" fill="none" stroke="#000" stroke-width="1.8"/>
<line x1="466.4" y1="644.5" x2="477.9" y2="644.5" stroke="#000" stroke-width="2.6"/>
<text x="460.7" y="653.2" font-size="19.5" text-anchor="end" font-family='"Liberation Sans", sans-serif'>0</text>
<line x1="472.4" y1="627.3" x2="477.9" y2="627.3" stroke="#000" stroke-width="1.6"/>
<line x1="472.4" y1="610.1" x2="477.9" y2="610.1" stroke="#000" stroke-width="1.6"/>
<line x1="472.4" y1="593" x2="477.9" y2="593" stroke="#000" stroke-width="1.6"/>
<line x1="466.4" y1="575.8" x2="477.9" y2="575.8" stroke="#000" stroke-width="2.6"/>
<text x="460.7" y="584.5" font-size="19.5" text-anchor="end" font-family='"Liberation Sans", sans-serif'>100</text>
<line x1="472.4" y1="558.7" x2="477.9" y2="558.7" stroke="#000" stroke-width="1.6"/>
<line x1="472.4" y1="541.6" x2="477.9" y2="541.6" stroke="#000" stroke-width="1.6"/>
<line x1="472.4" y1="524.5" x2="477.9" y2="524.5" stroke="#000" stroke-width="1.6"/>
<line x1="466.4" y1="507.4" x2="477.9" y2="507.4" stroke="#000" stroke-width="2.6"/>
<text x="460.7" y="516.7" font-size="19.5" text-anchor="end" font-family='"Liberation Sans", sans-serif'>200</text>
<line x1="472.4" y1="490.7" x2="477.9" y2="490.7" stroke="#000" stroke-width="1.6"/>
<line x1="472.4" y1="473.9" x2="477.9" y2="473.9" stroke="#000" stroke-width="1.6"/>
<line x1="472.4" y1="457.2" x2="477.9" y2="457.2" stroke="#000" stroke-width="1.6"/>
<line x1="466.4" y1="440.5" x2="477.9" y2="440.5" stroke="#000" stroke-width="2.6"/>
<text x="460.7" y="449.2" font-size="19.5" text-anchor="end" font-family='"Liberation Sans", sans-serif'>300</text>
<line x1="472.4" y1="423.8" x2="477.9" y2="423.8" stroke="#000" stroke-width="1.6"/>
<line x1="472.4" y1="407" x2="477.9" y2="407" stroke="#000" stroke-width="1.6"/>
<line x1="472.4" y1="390.2" x2="477.9" y2="390.2" stroke="#000" stroke-width="1.6"/>
<line x1="466.4" y1="373.5" x2="477.9" y2="373.5" stroke="#000" stroke-width="2.6"/>
<text x="460.7" y="382.7" font-size="19.5" text-anchor="end" font-family='"Liberation Sans", sans-serif'>400</text>
<line x1="477.9" y1="646.9" x2="477.9" y2="651.9" stroke="#000" stroke-width="1.5"/>
<line x1="483.8" y1="646.9" x2="483.8" y2="651.9" stroke="#000" stroke-width="1.5"/>
<line x1="489.3" y1="646.9" x2="489.3" y2="651.9" stroke="#000" stroke-width="1.5"/>
<line x1="493.7" y1="646.9" x2="493.7" y2="651.9" stroke="#000" stroke-width="1.5"/>
<line x1="497.5" y1="646.9" x2="497.5" y2="651.9" stroke="#000" stroke-width="1.5"/>
<line x1="500.8" y1="646.9" x2="500.8" y2="651.9" stroke="#000" stroke-width="1.5"/>
<line x1="503.7" y1="646.9" x2="503.7" y2="651.9" stroke="#000" stroke-width="1.5"/>
<line x1="506.3" y1="646.9" x2="506.3" y2="656.9" stroke="#000" stroke-width="2.6"/>
<line x1="523.3" y1="646.9" x2="523.3" y2="651.9" stroke="#000" stroke-width="1.5"/>
<line x1="533.3" y1="646.9" x2="533.3" y2="651.9" stroke="#000" stroke-width="1.5"/>
<line x1="540.4" y1="646.9" x2="540.4" y2="651.9" stroke="#000" stroke-width="1.5"/>
<line x1="545.9" y1="646.9" x2="545.9" y2="651.9" stroke="#000" stroke-width="1.5"/>
<line x1="550.3" y1="646.9" x2="550.3" y2="651.9" stroke="#000" stroke-width="1.5"/>
<line x1="554.1" y1="646.9" x2="554.1" y2="651.9" stroke="#000" stroke-width="1.5"/>
<line x1="557.4" y1="646.9" x2="557.4" y2="651.9" stroke="#000" stroke-width="1.5"/>
<line x1="560.3" y1="646.9" x2="560.3" y2="651.9" stroke="#000" stroke-width="1.5"/>
<line x1="562.9" y1="646.9" x2="562.9" y2="656.9" stroke="#000" stroke-width="2.6"/>
<line x1="579.9" y1="646.9" x2="579.9" y2="651.9" stroke="#000" stroke-width="1.5"/>
<line x1="589.9" y1="646.9" x2="589.9" y2="651.9" stroke="#000" stroke-width="1.5"/>
<line x1="597" y1="646.9" x2="597" y2="651.9" stroke="#000" stroke-width="1.5"/>
<line x1="602.5" y1="646.9" x2="602.5" y2="651.9" stroke="#000" stroke-width="1.5"/>
<line x1="606.9" y1="646.9" x2="606.9" y2="651.9" stroke="#000" stroke-width="1.5"/>
<line x1="610.7" y1="646.9" x2="610.7" y2="651.9" stroke="#000" stroke-width="1.5"/>
<line x1="614" y1="646.9" x2="614" y2="651.9" stroke="#000" stroke-width="1.5"/>
<line x1="616.9" y1="646.9" x2="616.9" y2="651.9" stroke="#000" stroke-width="1.5"/>
<line x1="619.5" y1="646.9" x2="619.5" y2="656.9" stroke="#000" stroke-width="2.6"/>
<line x1="636.5" y1="646.9" x2="636.5" y2="651.9" stroke="#000" stroke-width="1.5"/>
<line x1="646.5" y1="646.9" x2="646.5" y2="651.9" stroke="#000" stroke-width="1.5"/>
<line x1="653.6" y1="646.9" x2="653.6" y2="651.9" stroke="#000" stroke-width="1.5"/>
<line x1="659.1" y1="646.9" x2="659.1" y2="651.9" stroke="#000" stroke-width="1.5"/>
<line x1="663.5" y1="646.9" x2="663.5" y2="651.9" stroke="#000" stroke-width="1.5"/>
<line x1="667.3" y1="646.9" x2="667.3" y2="651.9" stroke="#000" stroke-width="1.5"/>
<line x1="670.6" y1="646.9" x2="670.6" y2="651.9" stroke="#000" stroke-width="1.5"/>
<line x1="673.5" y1="646.9" x2="673.5" y2="651.9" stroke="#000" stroke-width="1.5"/>
<line x1="676.1" y1="646.9" x2="676.1" y2="656.9" stroke="#000" stroke-width="2.6"/>
<line x1="693.1" y1="646.9" x2="693.1" y2="651.9" stroke="#000" stroke-width="1.5"/>
<line x1="703.1" y1="646.9" x2="703.1" y2="651.9" stroke="#000" stroke-width="1.5"/>
<line x1="710.2" y1="646.9" x2="710.2" y2="651.9" stroke="#000" stroke-width="1.5"/>
<line x1="715.7" y1="646.9" x2="715.7" y2="651.9" stroke="#000" stroke-width="1.5"/>
<line x1="720.1" y1="646.9" x2="720.1" y2="651.9" stroke="#000" stroke-width="1.5"/>
<line x1="723.9" y1="646.9" x2="723.9" y2="651.9" stroke="#000" stroke-width="1.5"/>
<line x1="727.2" y1="646.9" x2="727.2" y2="651.9" stroke="#000" stroke-width="1.5"/>
<line x1="730.1" y1="646.9" x2="730.1" y2="651.9" stroke="#000" stroke-width="1.5"/>
<line x1="732.7" y1="646.9" x2="732.7" y2="656.9" stroke="#000" stroke-width="2.6"/>
<line x1="749.7" y1="646.9" x2="749.7" y2="651.9" stroke="#000" stroke-width="1.5"/>
<text transform="translate(508.6,679) scale(1,1.07)" x="0" y="0" font-size="21" text-anchor="middle" font-family='"Liberation Sans", sans-serif'>10<tspan dy="-11" font-size="13.5">1</tspan></text>
<text transform="translate(564.1,679) scale(1,1.07)" x="0" y="0" font-size="21" text-anchor="middle" font-family='"Liberation Sans", sans-serif'>10<tspan dy="-11" font-size="13.5">2</tspan></text>
<text transform="translate(624.4,679) scale(1,1.07)" x="0" y="0" font-size="21" text-anchor="middle" font-family='"Liberation Sans", sans-serif'>10<tspan dy="-11" font-size="13.5">3</tspan></text>
<text transform="translate(678.9,679) scale(1,1.07)" x="0" y="0" font-size="21" text-anchor="middle" font-family='"Liberation Sans", sans-serif'>10<tspan dy="-11" font-size="13.5">4</tspan></text>
<text transform="translate(737,679) scale(1,1.07)" x="0" y="0" font-size="21" text-anchor="middle" font-family='"Liberation Sans", sans-serif'>10<tspan dy="-11" font-size="13.5">5</tspan></text>
<text transform="translate(612.7,717) scale(1,1.04)" x="0" y="0" font-size="22.5" text-anchor="middle" font-family='"Liberation Sans", sans-serif'>APC-A</text>
<text x="0" y="0" transform="translate(414.4,501.1) rotate(-90)" font-size="22.6" text-anchor="middle" font-family='"Liberation Sans", sans-serif'>Count</text>
<text transform="translate(734.3,404) scale(1,1.08)" x="0" y="0" font-size="26" font-family='"Liberation Serif", serif'>d</text>
<clipPath id="clipg4"><path d="M77.5,1037 L77.9,885 L78.6,1024 L80.2,1033.6 L88.6,1034.6 L97,1031.5 L107.5,1028.3 L113.8,1026.2 L120.2,1015.7 L126.5,1011.5 L132.8,1001 L137,982.1 L143.3,967.3 L146.5,948.3 L149.6,924.4 L152.3,921.6 L156.9,893.1 L159.7,891.3 L164.3,869.2 L168,878.4 L171.7,902.3 L175.3,920.7 L179,961 L183.2,986.3 L189.5,1001 L195.8,1017.8 L202.2,1019.9 L210.6,1028.3 L219,1033.6 L236,1035.7 L270,1036.5 Z"/></clipPath>
<path d="M77.5,1037 L77.9,885 L78.6,1024 L80.2,1033.6 L88.6,1034.6 L97,1031.5 L107.5,1028.3 L113.8,1026.2 L120.2,1015.7 L126.5,1011.5 L132.8,1001 L137,982.1 L143.3,967.3 L146.5,948.3 L149.6,924.4 L152.3,921.6 L156.9,893.1 L159.7,891.3 L164.3,869.2 L168,878.4 L171.7,902.3 L175.3,920.7 L179,961 L183.2,986.3 L189.5,1001 L195.8,1017.8 L202.2,1019.9 L210.6,1028.3 L219,1033.6 L236,1035.7 L270,1036.5 Z" fill="#acacac"/>
<path d="M77.5,1037 L77.5,1028 L80,1035.5 L118.1,1033.6 L134.9,1032.5 L143.3,1026.2 L151.7,1023.1 L158,1021 L162.2,1015.7 L168.5,1009.4 L172.7,1013.6 L181.1,1005.2 L189.5,990.5 L198,977.8 L206.4,965.2 L212.7,952.6 L217,944 L221.8,913.5 L228.4,876.4 L231.6,877.5 L236,845.8 L240.4,841.5 L244.7,809.8 L246.9,821.8 L252.4,893.8 L261.1,952.7 L269.8,996.4 L278.6,1020.4 L291.6,1035.6 L300,1036.5 Z" fill="#faaaaa"/>
<path d="M77.5,1037 L77.5,1028 L80,1035.5 L118.1,1033.6 L134.9,1032.5 L143.3,1026.2 L151.7,1023.1 L158,1021 L162.2,1015.7 L168.5,1009.4 L172.7,1013.6 L181.1,1005.2 L189.5,990.5 L198,977.8 L206.4,965.2 L212.7,952.6 L217,944 L221.8,913.5 L228.4,876.4 L231.6,877.5 L236,845.8 L240.4,841.5 L244.7,809.8 L246.9,821.8 L252.4,893.8 L261.1,952.7 L269.8,996.4 L278.6,1020.4 L291.6,1035.6 L300,1036.5 Z" fill="#ac7a7d" clip-path="url(#clipg4)"/>
<path d="M77.5,1037 L77.9,885 L78.6,1024 L80.2,1033.6 L88.6,1034.6 L97,1031.5 L107.5,1028.3 L113.8,1026.2 L120.2,1015.7 L126.5,1011.5 L132.8,1001 L137,982.1 L143.3,967.3 L146.5,948.3 L149.6,924.4 L152.3,921.6 L156.9,893.1 L159.7,891.3 L164.3,869.2 L168,878.4 L171.7,902.3 L175.3,920.7 L179,961 L183.2,986.3 L189.5,1001 L195.8,1017.8 L202.2,1019.9 L210.6,1028.3 L219,1033.6 L236,1035.7 L270,1036.5" fill="none" stroke="#2a2a2a" stroke-width="2" stroke-linejoin="round"/>
<path d="M77.5,1037 L77.5,1028 L80,1035.5 L118.1,1033.6 L134.9,1032.5 L143.3,1026.2 L151.7,1023.1 L158,1021 L162.2,1015.7 L168.5,1009.4 L172.7,1013.6 L181.1,1005.2 L189.5,990.5 L198,977.8 L206.4,965.2 L212.7,952.6 L217,944 L221.8,913.5 L228.4,876.4 L231.6,877.5 L236,845.8 L240.4,841.5 L244.7,809.8 L246.9,821.8 L252.4,893.8 L261.1,952.7 L269.8,996.4 L278.6,1020.4 L291.6,1035.6 L300,1036.5" fill="none" stroke="#b5474f" stroke-width="1.8" stroke-linejoin="round"/>
<rect x="76.8" y="758.2" width="280.9" height="278.8" fill="none" stroke="#5a5a5a" stroke-width="2"/>
<line x1="76.8" y1="1037" x2="357.7" y2="1037" stroke="#222" stroke-width="2.2"/>
<line x1="69.3" y1="1035.3" x2="76.8" y2="1035.3" stroke="#333" stroke-width="2.4"/>
<text x="60.7" y="1040.8" font-size="19.5" text-anchor="end" font-family='"Liberation Sans", sans-serif'>0</text>
<line x1="73.8" y1="1023.2" x2="76.8" y2="1023.2" stroke="#333" stroke-width="1.6"/>
<line x1="73.8" y1="1011.2" x2="76.8" y2="1011.2" stroke="#333" stroke-width="1.6"/>
<line x1="73.8" y1="999.1" x2="76.8" y2="999.1" stroke="#333" stroke-width="1.6"/>
<line x1="69.3" y1="987.1" x2="76.8" y2="987.1" stroke="#333" stroke-width="2.4"/>
<text x="64.4" y="993.9" font-size="19.5" text-anchor="end" font-family='"Liberation Sans", sans-serif'>20</text>
<line x1="73.8" y1="974.9" x2="76.8" y2="974.9" stroke="#333" stroke-width="1.6"/>
<line x1="73.8" y1="962.7" x2="76.8" y2="962.7" stroke="#333" stroke-width="1.6"/>
<line x1="73.8" y1="950.5" x2="76.8" y2="950.5" stroke="#333" stroke-width="1.6"/>
<line x1="69.3" y1="938.3" x2="76.8" y2="938.3" stroke="#333" stroke-width="2.4"/>
<text x="65.3" y="944.9" font-size="19.5" text-anchor="end" font-family='"Liberation Sans", sans-serif'>40</text>
<line x1="73.8" y1="926.2" x2="76.8" y2="926.2" stroke="#333" stroke-width="1.6"/>
<line x1="73.8" y1="914.1" x2="76.8" y2="914.1" stroke="#333" stroke-width="1.6"/>
<line x1="73.8" y1="902.1" x2="76.8" y2="902.1" stroke="#333" stroke-width="1.6"/>
<line x1="69.3" y1="890" x2="76.8" y2="890" stroke="#333" stroke-width="2.4"/>
<text x="65.3" y="895.8" font-size="19.5" text-anchor="end" font-family='"Liberation Sans", sans-serif'>60</text>
<line x1="73.8" y1="878.1" x2="76.8" y2="878.1" stroke="#333" stroke-width="1.6"/>
<line x1="73.8" y1="866.1" x2="76.8" y2="866.1" stroke="#333" stroke-width="1.6"/>
<line x1="73.8" y1="854.2" x2="76.8" y2="854.2" stroke="#333" stroke-width="1.6"/>
<line x1="69.3" y1="842.3" x2="76.8" y2="842.3" stroke="#333" stroke-width="2.4"/>
<text x="64.5" y="851.5" font-size="19.5" text-anchor="end" font-family='"Liberation Sans", sans-serif'>80</text>
<line x1="73.8" y1="830" x2="76.8" y2="830" stroke="#333" stroke-width="1.6"/>
<line x1="73.8" y1="817.7" x2="76.8" y2="817.7" stroke="#333" stroke-width="1.6"/>
<line x1="73.8" y1="805.4" x2="76.8" y2="805.4" stroke="#333" stroke-width="1.6"/>
<line x1="69.3" y1="793.1" x2="76.8" y2="793.1" stroke="#333" stroke-width="2.4"/>
<text x="65.2" y="801.7" font-size="19.5" text-anchor="end" font-family='"Liberation Sans", sans-serif'>100</text>
<line x1="73.8" y1="780.8" x2="76.8" y2="780.8" stroke="#333" stroke-width="1.6"/>
<line x1="73.8" y1="768.5" x2="76.8" y2="768.5" stroke="#333" stroke-width="1.6"/>
<line x1="76.9" y1="1037" x2="76.9" y2="1040.5" stroke="#333" stroke-width="1.2"/>
<line x1="83.9" y1="1037" x2="83.9" y2="1040.5" stroke="#333" stroke-width="1.2"/>
<line x1="89.4" y1="1037" x2="89.4" y2="1040.5" stroke="#333" stroke-width="1.2"/>
<line x1="93.8" y1="1037" x2="93.8" y2="1040.5" stroke="#333" stroke-width="1.2"/>
<line x1="97.6" y1="1037" x2="97.6" y2="1040.5" stroke="#333" stroke-width="1.2"/>
<line x1="100.8" y1="1037" x2="100.8" y2="1040.5" stroke="#333" stroke-width="1.2"/>
<line x1="103.7" y1="1037" x2="103.7" y2="1040.5" stroke="#333" stroke-width="1.2"/>
<line x1="106.3" y1="1037" x2="106.3" y2="1043.5" stroke="#333" stroke-width="2.2"/>
<line x1="123.2" y1="1037" x2="123.2" y2="1040.5" stroke="#333" stroke-width="1.2"/>
<line x1="133.2" y1="1037" x2="133.2" y2="1040.5" stroke="#333" stroke-width="1.2"/>
<line x1="140.2" y1="1037" x2="140.2" y2="1040.5" stroke="#333" stroke-width="1.2"/>
<line x1="145.7" y1="1037" x2="145.7" y2="1040.5" stroke="#333" stroke-width="1.2"/>
<line x1="150.1" y1="1037" x2="150.1" y2="1040.5" stroke="#333" stroke-width="1.2"/>
<line x1="153.9" y1="1037" x2="153.9" y2="1040.5" stroke="#333" stroke-width="1.2"/>
<line x1="157.1" y1="1037" x2="157.1" y2="1040.5" stroke="#333" stroke-width="1.2"/>
<line x1="160" y1="1037" x2="160" y2="1040.5" stroke="#333" stroke-width="1.2"/>
<line x1="162.6" y1="1037" x2="162.6" y2="1043.5" stroke="#333" stroke-width="2.2"/>
<line x1="179.5" y1="1037" x2="179.5" y2="1040.5" stroke="#333" stroke-width="1.2"/>
<line x1="189.5" y1="1037" x2="189.5" y2="1040.5" stroke="#333" stroke-width="1.2"/>
<line x1="196.5" y1="1037" x2="196.5" y2="1040.5" stroke="#333" stroke-width="1.2"/>
<line x1="202" y1="1037" x2="202" y2="1040.5" stroke="#333" stroke-width="1.2"/>
<line x1="206.4" y1="1037" x2="206.4" y2="1040.5" stroke="#333" stroke-width="1.2"/>
<line x1="210.2" y1="1037" x2="210.2" y2="1040.5" stroke="#333" stroke-width="1.2"/>
<line x1="213.4" y1="1037" x2="213.4" y2="1040.5" stroke="#333" stroke-width="1.2"/>
<line x1="216.3" y1="1037" x2="216.3" y2="1040.5" stroke="#333" stroke-width="1.2"/>
<line x1="218.9" y1="1037" x2="218.9" y2="1043.5" stroke="#333" stroke-width="2.2"/>
<line x1="235.8" y1="1037" x2="235.8" y2="1040.5" stroke="#333" stroke-width="1.2"/>
<line x1="245.8" y1="1037" x2="245.8" y2="1040.5" stroke="#333" stroke-width="1.2"/>
<line x1="252.8" y1="1037" x2="252.8" y2="1040.5" stroke="#333" stroke-width="1.2"/>
<line x1="258.3" y1="1037" x2="258.3" y2="1040.5" stroke="#333" stroke-width="1.2"/>
<line x1="262.7" y1="1037" x2="262.7" y2="1040.5" stroke="#333" stroke-width="1.2"/>
<line x1="266.5" y1="1037" x2="266.5" y2="1040.5" stroke="#333" stroke-width="1.2"/>
<line x1="269.7" y1="1037" x2="269.7" y2="1040.5" stroke="#333" stroke-width="1.2"/>
<line x1="272.6" y1="1037" x2="272.6" y2="1040.5" stroke="#333" stroke-width="1.2"/>
<line x1="275.2" y1="1037" x2="275.2" y2="1043.5" stroke="#333" stroke-width="2.2"/>
<line x1="292.1" y1="1037" x2="292.1" y2="1040.5" stroke="#333" stroke-width="1.2"/>
<line x1="302.1" y1="1037" x2="302.1" y2="1040.5" stroke="#333" stroke-width="1.2"/>
<line x1="309.1" y1="1037" x2="309.1" y2="1040.5" stroke="#333" stroke-width="1.2"/>
<line x1="314.6" y1="1037" x2="314.6" y2="1040.5" stroke="#333" stroke-width="1.2"/>
<line x1="319" y1="1037" x2="319" y2="1040.5" stroke="#333" stroke-width="1.2"/>
<line x1="322.8" y1="1037" x2="322.8" y2="1040.5" stroke="#333" stroke-width="1.2"/>
<line x1="326" y1="1037" x2="326" y2="1040.5" stroke="#333" stroke-width="1.2"/>
<line x1="328.9" y1="1037" x2="328.9" y2="1040.5" stroke="#333" stroke-width="1.2"/>
<line x1="331.5" y1="1037" x2="331.5" y2="1043.5" stroke="#333" stroke-width="2.2"/>
<line x1="348.4" y1="1037" x2="348.4" y2="1040.5" stroke="#333" stroke-width="1.2"/>
<text transform="translate(109,1064.3) scale(1,1.07)" x="0" y="0" font-size="21.5" text-anchor="middle" font-family='"Liberation Sans", sans-serif'>10<tspan dy="-11" font-size="14">1</tspan></text>
<text transform="translate(165.3,1064.3) scale(1,1.07)" x="0" y="0" font-size="21.5" text-anchor="middle" font-family='"Liberation Sans", sans-serif'>10<tspan dy="-11" font-size="14">2</tspan></text>
<text transform="translate(221.6,1064.3) scale(1,1.07)" x="0" y="0" font-size="21.5" text-anchor="middle" font-family='"Liberation Sans", sans-serif'>10<tspan dy="-11" font-size="14">3</tspan></text>
<text transform="translate(277.9,1064.3) scale(1,1.07)" x="0" y="0" font-size="21.5" text-anchor="middle" font-family='"Liberation Sans", sans-serif'>10<tspan dy="-11" font-size="14">4</tspan></text>
<text transform="translate(334.2,1064.3) scale(1,1.07)" x="0" y="0" font-size="21.5" text-anchor="middle" font-family='"Liberation Sans", sans-serif'>10<tspan dy="-11" font-size="14">5</tspan></text>
<text transform="translate(210,1098.5) scale(1,1.04)" x="0" y="0" font-size="22.5" text-anchor="middle" font-family='"Liberation Sans", sans-serif'>APC-A</text>
<text x="0" y="0" transform="translate(16.8,888.3) rotate(-90)" font-size="22.6" text-anchor="middle" font-family='"Liberation Sans", sans-serif'>Count</text>
<text transform="translate(334.8,783.5) scale(1,1.08)" x="0" y="0" font-size="26" font-family='"Liberation Serif", serif'>e</text>
<clipPath id="clipg5"><path d="M475.5,1037 L475.5,882 L476.3,1022 L479.3,1032.7 L495,1031.4 L508.2,1028.8 L516,1020.9 L523.9,1010.4 L530.5,999.9 L537.1,976.2 L542.3,965.7 L545.7,940 L546.3,926.3 L550.2,921 L553.1,895 L556.8,891.3 L561.4,870.1 L566,887.6 L569.7,911.5 L571.2,921 L576.5,965.7 L581.8,989.4 L589.6,1005.1 L594.9,1015.6 L605.4,1023.5 L615.9,1034 L631.7,1035.3 L663.1,1036.1 L680,1036.5 Z"/></clipPath>
<path d="M475.5,1037 L475.5,882 L476.3,1022 L479.3,1032.7 L495,1031.4 L508.2,1028.8 L516,1020.9 L523.9,1010.4 L530.5,999.9 L537.1,976.2 L542.3,965.7 L545.7,940 L546.3,926.3 L550.2,921 L553.1,895 L556.8,891.3 L561.4,870.1 L566,887.6 L569.7,911.5 L571.2,921 L576.5,965.7 L581.8,989.4 L589.6,1005.1 L594.9,1015.6 L605.4,1023.5 L615.9,1034 L631.7,1035.3 L663.1,1036.1 L680,1036.5 Z" fill="#acacac"/>
<path d="M475.5,1037 L475.5,1020 L479,1035 L489.8,1034 L510.8,1028.8 L526.6,1018.3 L539.7,994.6 L547.6,965.7 L555.5,936.8 L560.7,926.3 L566,913.1 L571.2,900 L573.3,898.6 L577,900.5 L579.8,891.3 L584.4,906 L589.9,920.7 L593.6,914.3 L600.9,935.4 L602.4,938.3 L607.1,911.5 L611,932 L615,926.5 L620.5,938.3 L625.2,925.7 L628.4,935 L631.7,965.7 L642.2,989.4 L652.7,1013 L663.2,1026.1 L674,1034 L685,1036.5 Z" fill="#faaaaa"/>
<path d="M475.5,1037 L475.5,1020 L479,1035 L489.8,1034 L510.8,1028.8 L526.6,1018.3 L539.7,994.6 L547.6,965.7 L555.5,936.8 L560.7,926.3 L566,913.1 L571.2,900 L573.3,898.6 L577,900.5 L579.8,891.3 L584.4,906 L589.9,920.7 L593.6,914.3 L600.9,935.4 L602.4,938.3 L607.1,911.5 L611,932 L615,926.5 L620.5,938.3 L625.2,925.7 L628.4,935 L631.7,965.7 L642.2,989.4 L652.7,1013 L663.2,1026.1 L674,1034 L685,1036.5 Z" fill="#ac7a7d" clip-path="url(#clipg5)"/>
<path d="M475.5,1037 L475.5,882 L476.3,1022 L479.3,1032.7 L495,1031.4 L508.2,1028.8 L516,1020.9 L523.9,1010.4 L530.5,999.9 L537.1,976.2 L542.3,965.7 L545.7,940 L546.3,926.3 L550.2,921 L553.1,895 L556.8,891.3 L561.4,870.1 L566,887.6 L569.7,911.5 L571.2,921 L576.5,965.7 L581.8,989.4 L589.6,1005.1 L594.9,1015.6 L605.4,1023.5 L615.9,1034 L631.7,1035.3 L663.1,1036.1 L680,1036.5" fill="none" stroke="#2a2a2a" stroke-width="2" stroke-linejoin="round"/>
<path d="M475.5,1037 L475.5,1020 L479,1035 L489.8,1034 L510.8,1028.8 L526.6,1018.3 L539.7,994.6 L547.6,965.7 L555.5,936.8 L560.7,926.3 L566,913.1 L571.2,900 L573.3,898.6 L577,900.5 L579.8,891.3 L584.4,906 L589.9,920.7 L593.6,914.3 L600.9,935.4 L602.4,938.3 L607.1,911.5 L611,932 L615,926.5 L620.5,938.3 L625.2,925.7 L628.4,935 L631.7,965.7 L642.2,989.4 L652.7,1013 L663.2,1026.1 L674,1034 L685,1036.5" fill="none" stroke="#b5474f" stroke-width="1.8" stroke-linejoin="round"/>
<rect x="474.7" y="758.5" width="280.3" height="278.7" fill="none" stroke="#5a5a5a" stroke-width="2"/>
<line x1="474.7" y1="1037.2" x2="755" y2="1037.2" stroke="#222" stroke-width="2.2"/>
<line x1="467.2" y1="1035.7" x2="474.7" y2="1035.7" stroke="#333" stroke-width="2.4"/>
<text x="460.7" y="1041.2" font-size="19.5" text-anchor="end" font-family='"Liberation Sans", sans-serif'>0</text>
<line x1="471.7" y1="1023.7" x2="474.7" y2="1023.7" stroke="#333" stroke-width="1.6"/>
<line x1="471.7" y1="1011.8" x2="474.7" y2="1011.8" stroke="#333" stroke-width="1.6"/>
<line x1="471.7" y1="999.8" x2="474.7" y2="999.8" stroke="#333" stroke-width="1.6"/>
<line x1="467.2" y1="987.8" x2="474.7" y2="987.8" stroke="#333" stroke-width="2.4"/>
<text x="460.7" y="995.4" font-size="19.5" text-anchor="end" font-family='"Liberation Sans", sans-serif'>20</text>
<line x1="471.7" y1="975.3" x2="474.7" y2="975.3" stroke="#333" stroke-width="1.6"/>
<line x1="471.7" y1="962.8" x2="474.7" y2="962.8" stroke="#333" stroke-width="1.6"/>
<line x1="471.7" y1="950.3" x2="474.7" y2="950.3" stroke="#333" stroke-width="1.6"/>
<line x1="467.2" y1="937.8" x2="474.7" y2="937.8" stroke="#333" stroke-width="2.4"/>
<text x="460.7" y="948.4" font-size="19.5" text-anchor="end" font-family='"Liberation Sans", sans-serif'>40</text>
<line x1="471.7" y1="925.9" x2="474.7" y2="925.9" stroke="#333" stroke-width="1.6"/>
<line x1="471.7" y1="914.1" x2="474.7" y2="914.1" stroke="#333" stroke-width="1.6"/>
<line x1="471.7" y1="902.2" x2="474.7" y2="902.2" stroke="#333" stroke-width="1.6"/>
<line x1="467.2" y1="890.4" x2="474.7" y2="890.4" stroke="#333" stroke-width="2.4"/>
<text x="460.7" y="899.6" font-size="19.5" text-anchor="end" font-family='"Liberation Sans", sans-serif'>60</text>
<line x1="471.7" y1="878.5" x2="474.7" y2="878.5" stroke="#333" stroke-width="1.6"/>
<line x1="471.7" y1="866.6" x2="474.7" y2="866.6" stroke="#333" stroke-width="1.6"/>
<line x1="471.7" y1="854.8" x2="474.7" y2="854.8" stroke="#333" stroke-width="1.6"/>
<line x1="467.2" y1="842.9" x2="474.7" y2="842.9" stroke="#333" stroke-width="2.4"/>
<text x="460.7" y="851.7" font-size="19.5" text-anchor="end" font-family='"Liberation Sans", sans-serif'>80</text>
<line x1="471.7" y1="830.5" x2="474.7" y2="830.5" stroke="#333" stroke-width="1.6"/>
<line x1="471.7" y1="818" x2="474.7" y2="818" stroke="#333" stroke-width="1.6"/>
<line x1="471.7" y1="805.5" x2="474.7" y2="805.5" stroke="#333" stroke-width="1.6"/>
<line x1="467.2" y1="793.1" x2="474.7" y2="793.1" stroke="#333" stroke-width="2.4"/>
<text x="460.7" y="801.2" font-size="19.5" text-anchor="end" font-family='"Liberation Sans", sans-serif'>100</text>
<line x1="471.7" y1="780.7" x2="474.7" y2="780.7" stroke="#333" stroke-width="1.6"/>
<line x1="471.7" y1="768.2" x2="474.7" y2="768.2" stroke="#333" stroke-width="1.6"/>
<line x1="474.7" y1="1037.2" x2="474.7" y2="1040.7" stroke="#333" stroke-width="1.2"/>
<line x1="480.4" y1="1037.2" x2="480.4" y2="1040.7" stroke="#333" stroke-width="1.2"/>
<line x1="485.9" y1="1037.2" x2="485.9" y2="1040.7" stroke="#333" stroke-width="1.2"/>
<line x1="490.4" y1="1037.2" x2="490.4" y2="1040.7" stroke="#333" stroke-width="1.2"/>
<line x1="494.1" y1="1037.2" x2="494.1" y2="1040.7" stroke="#333" stroke-width="1.2"/>
<line x1="497.4" y1="1037.2" x2="497.4" y2="1040.7" stroke="#333" stroke-width="1.2"/>
<line x1="500.3" y1="1037.2" x2="500.3" y2="1040.7" stroke="#333" stroke-width="1.2"/>
<line x1="502.9" y1="1037.2" x2="502.9" y2="1043.7" stroke="#333" stroke-width="2.2"/>
<line x1="519.9" y1="1037.2" x2="519.9" y2="1040.7" stroke="#333" stroke-width="1.2"/>
<line x1="529.9" y1="1037.2" x2="529.9" y2="1040.7" stroke="#333" stroke-width="1.2"/>
<line x1="536.9" y1="1037.2" x2="536.9" y2="1040.7" stroke="#333" stroke-width="1.2"/>
<line x1="542.4" y1="1037.2" x2="542.4" y2="1040.7" stroke="#333" stroke-width="1.2"/>
<line x1="546.9" y1="1037.2" x2="546.9" y2="1040.7" stroke="#333" stroke-width="1.2"/>
<line x1="550.6" y1="1037.2" x2="550.6" y2="1040.7" stroke="#333" stroke-width="1.2"/>
<line x1="553.9" y1="1037.2" x2="553.9" y2="1040.7" stroke="#333" stroke-width="1.2"/>
<line x1="556.8" y1="1037.2" x2="556.8" y2="1040.7" stroke="#333" stroke-width="1.2"/>
<line x1="559.4" y1="1037.2" x2="559.4" y2="1043.7" stroke="#333" stroke-width="2.2"/>
<line x1="576.4" y1="1037.2" x2="576.4" y2="1040.7" stroke="#333" stroke-width="1.2"/>
<line x1="586.4" y1="1037.2" x2="586.4" y2="1040.7" stroke="#333" stroke-width="1.2"/>
<line x1="593.4" y1="1037.2" x2="593.4" y2="1040.7" stroke="#333" stroke-width="1.2"/>
<line x1="598.9" y1="1037.2" x2="598.9" y2="1040.7" stroke="#333" stroke-width="1.2"/>
<line x1="603.4" y1="1037.2" x2="603.4" y2="1040.7" stroke="#333" stroke-width="1.2"/>
<line x1="607.1" y1="1037.2" x2="607.1" y2="1040.7" stroke="#333" stroke-width="1.2"/>
<line x1="610.4" y1="1037.2" x2="610.4" y2="1040.7" stroke="#333" stroke-width="1.2"/>
<line x1="613.3" y1="1037.2" x2="613.3" y2="1040.7" stroke="#333" stroke-width="1.2"/>
<line x1="615.9" y1="1037.2" x2="615.9" y2="1043.7" stroke="#333" stroke-width="2.2"/>
<line x1="632.9" y1="1037.2" x2="632.9" y2="1040.7" stroke="#333" stroke-width="1.2"/>
<line x1="642.9" y1="1037.2" x2="642.9" y2="1040.7" stroke="#333" stroke-width="1.2"/>
<line x1="649.9" y1="1037.2" x2="649.9" y2="1040.7" stroke="#333" stroke-width="1.2"/>
<line x1="655.4" y1="1037.2" x2="655.4" y2="1040.7" stroke="#333" stroke-width="1.2"/>
<line x1="659.9" y1="1037.2" x2="659.9" y2="1040.7" stroke="#333" stroke-width="1.2"/>
<line x1="663.6" y1="1037.2" x2="663.6" y2="1040.7" stroke="#333" stroke-width="1.2"/>
<line x1="666.9" y1="1037.2" x2="666.9" y2="1040.7" stroke="#333" stroke-width="1.2"/>
<line x1="669.8" y1="1037.2" x2="669.8" y2="1040.7" stroke="#333" stroke-width="1.2"/>
<line x1="672.4" y1="1037.2" x2="672.4" y2="1043.7" stroke="#333" stroke-width="2.2"/>
<line x1="689.4" y1="1037.2" x2="689.4" y2="1040.7" stroke="#333" stroke-width="1.2"/>
<line x1="699.4" y1="1037.2" x2="699.4" y2="1040.7" stroke="#333" stroke-width="1.2"/>
<line x1="706.4" y1="1037.2" x2="706.4" y2="1040.7" stroke="#333" stroke-width="1.2"/>
<line x1="711.9" y1="1037.2" x2="711.9" y2="1040.7" stroke="#333" stroke-width="1.2"/>
<line x1="716.4" y1="1037.2" x2="716.4" y2="1040.7" stroke="#333" stroke-width="1.2"/>
<line x1="720.1" y1="1037.2" x2="720.1" y2="1040.7" stroke="#333" stroke-width="1.2"/>
<line x1="723.4" y1="1037.2" x2="723.4" y2="1040.7" stroke="#333" stroke-width="1.2"/>
<line x1="726.3" y1="1037.2" x2="726.3" y2="1040.7" stroke="#333" stroke-width="1.2"/>
<line x1="728.9" y1="1037.2" x2="728.9" y2="1043.7" stroke="#333" stroke-width="2.2"/>
<line x1="745.9" y1="1037.2" x2="745.9" y2="1040.7" stroke="#333" stroke-width="1.2"/>
<text transform="translate(508,1067.7) scale(1,1.07)" x="0" y="0" font-size="21.5" text-anchor="middle" font-family='"Liberation Sans", sans-serif'>10<tspan dy="-11" font-size="14">1</tspan></text>
<text transform="translate(563.9,1067.7) scale(1,1.07)" x="0" y="0" font-size="21.5" text-anchor="middle" font-family='"Liberation Sans", sans-serif'>10<tspan dy="-11" font-size="14">2</tspan></text>
<text transform="translate(619.8,1067.7) scale(1,1.07)" x="0" y="0" font-size="21.5" text-anchor="middle" font-family='"Liberation Sans", sans-serif'>10<tspan dy="-11" font-size="14">3</tspan></text>
<text transform="translate(675.7,1067.7) scale(1,1.07)" x="0" y="0" font-size="21.5" text-anchor="middle" font-family='"Liberation Sans", sans-serif'>10<tspan dy="-11" font-size="14">4</tspan></text>
<text transform="translate(731.6,1067.7) scale(1,1.07)" x="0" y="0" font-size="21.5" text-anchor="middle" font-family='"Liberation Sans", sans-serif'>10<tspan dy="-11" font-size="14">5</tspan></text>
<text transform="translate(624.8,1099.5) scale(1,1.04)" x="0" y="0" font-size="22.5" text-anchor="middle" font-family='"Liberation Sans", sans-serif'>APC-A</text>
<text x="0" y="0" transform="translate(415.1,884.8) rotate(-90)" font-size="22.6" text-anchor="middle" font-family='"Liberation Sans", sans-serif'>Count</text>
<text transform="translate(732.5,783.7) scale(1,1.08)" x="0" y="0" font-size="26" font-family='"Liberation Serif", serif'>f</text>
</svg></body></html>
